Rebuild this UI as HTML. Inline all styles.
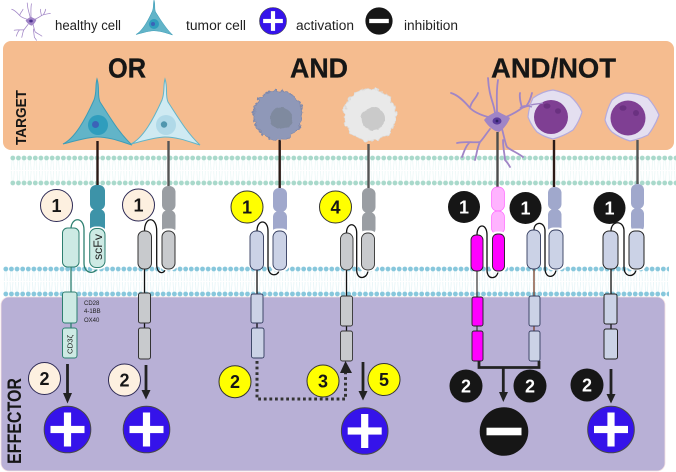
<!DOCTYPE html>
<html><head><meta charset="utf-8"><style>
html,body{margin:0;padding:0;background:#fff}
svg{display:block}
text{font-family:"Liberation Sans",sans-serif}
.t{font-weight:bold;font-size:28px;fill:#161616;stroke:#161616;stroke-width:.3}
.l{font-size:13.5px;fill:#222}
.n{font-weight:bold;font-size:18px;text-anchor:middle}
.s{fill:none;stroke-linecap:round;stroke-width:1.3}
.i{font-size:6px;fill:#222}
</style></head><body>
<svg width="676" height="472" viewBox="0 0 676 472" xmlns="http://www.w3.org/2000/svg">
<defs>
<pattern id="m1" patternUnits="userSpaceOnUse" x="10" y="155" width="5.62" height="31">
<path d="M2 5L1.4 15M3.6 5L4.3 15M1.4 16L2 26M4.3 16L3.6 26" stroke="#e8f6f5" stroke-width=".7" fill="none"/>
<circle cx="2.8" cy="3" r="2.4" fill="#a9d9cb"/><circle cx="2.8" cy="28" r="2.4" fill="#a9d9cb"/>
</pattern>
<pattern id="m2" patternUnits="userSpaceOnUse" x="3" y="266" width="5.62" height="31">
<path d="M2 5L1.4 15M3.6 5L4.3 15M1.4 16L2 26M4.3 16L3.6 26" stroke="#e2f3f6" stroke-width=".7" fill="none"/>
<circle cx="2.8" cy="3" r="2.4" fill="#87c7dc"/><circle cx="2.8" cy="28" r="2.4" fill="#87c7dc"/>
</pattern>
<filter id="rgh" x="-30%" y="-30%" width="160%" height="160%"><feTurbulence type="fractalNoise" baseFrequency=".22" numOctaves="2" seed="4"/><feDisplacementMap in="SourceGraphic" scale="7" xChannelSelector="R" yChannelSelector="G"/></filter>
<filter id="rgh2" x="-30%" y="-30%" width="160%" height="160%"><feTurbulence type="fractalNoise" baseFrequency=".15" numOctaves="2" seed="9"/><feDisplacementMap in="SourceGraphic" scale="4" xChannelSelector="R" yChannelSelector="G"/></filter>
<path id="tumor" d="M97 79C100 88 97 95 100 102C108 114 118 132 132 145C122 142 110 137 97 137C88 137 75 141 63 144C75 138 85 120 94 100C97 92 95 86 97 79Z"/>
<g id="neuron">
<g fill="none" stroke="#a085c6" stroke-linecap="round" stroke-linejoin="round" stroke-width="1.800">
<path d="M495 113C494 103 489 97 488 78M497 113C497 100 496 92 498 80"/>
<path d="M488 117C481 115 474 112 470 108C464 101 458 95 451 93M470 108C471 101 476 99 478 93"/>
<path d="M506 117C513 114 518 111 522 108C528 105 536 104 543 103M522 108C521 103 519 99 520 93M527 105C530 101 531 97 532 93"/>
<path d="M490 129C486 134 483 139 480 142C473 143 465 141 457 143M480 142C477 148 477 153 475 160M469 143C465 147 464 152 462 157"/>
<path d="M502 129C504 136 505 143 507 147C512 151 518 153 523 157M503 140C503 149 505 156 505 160C507 162 509 165 510 167"/>
</g>
<path d="M497 111C502 114 507 116 510 118C508 123 504 129 499 132C493 131 488 126 484 120C487 116 492 114 497 111Z" fill="#a085c6"/>
<ellipse cx="497" cy="121" rx="4.5" ry="3.6" fill="#5a3c9b"/><circle cx="497" cy="121" r="1.4" fill="#2e2266"/>
</g>
<g id="plus"><circle r="23.3" fill="#3513ea" stroke="#484848" stroke-width="1"/><rect x="-17" y="-3.6" width="34" height="7.2" fill="#fff"/><rect x="-3.6" y="-17" width="7.2" height="34" fill="#fff"/></g>
<g id="minus"><circle r="24.3" fill="#161616"/><rect x="-17.5" y="-3.8" width="35" height="7.6" fill="#fff"/></g>
</defs>

<rect x="3" y="41" width="671" height="109" rx="8" fill="#f5bc8f"/>
<rect x="1" y="297" width="664" height="174" rx="8" fill="#b8b0d6" stroke="#f3dfe2" stroke-width=".8"/>
<rect x="10" y="155" width="666" height="31" fill="url(#m1)"/>
<rect x="3" y="266" width="666" height="31" fill="url(#m2)"/>

<!-- legend -->
<use href="#neuron" transform="translate(31 21) scale(.42) translate(-497 -121)"/>
<text class="l" x="55" y="30" textLength="66" lengthAdjust="spacingAndGlyphs">healthy cell</text>
<use href="#tumor" transform="translate(154 0) scale(.53) translate(-97 -79)" fill="#62b4c8" stroke="#3c9cb7" stroke-width="1"/>
<circle cx="154" cy="24" r="5" fill="#2f9dbd"/><circle cx="153" cy="24" r="2" fill="#3b63b8"/>
<text class="l" x="186" y="30" textLength="60" lengthAdjust="spacingAndGlyphs">tumor cell</text>
<use href="#plus" transform="translate(273 21) scale(.58)"/>
<text class="l" x="296" y="30" textLength="58" lengthAdjust="spacingAndGlyphs">activation</text>
<use href="#minus" transform="translate(379 21) scale(.56)"/>
<text class="l" x="404" y="30" textLength="54" lengthAdjust="spacingAndGlyphs">inhibition</text>

<!-- titles -->
<text class="t" x="108" y="77.500" textLength="38" lengthAdjust="spacingAndGlyphs">OR</text>
<text class="t" x="290" y="77.500" textLength="58" lengthAdjust="spacingAndGlyphs">AND</text>
<text class="t" x="491" y="77.500" textLength="125" lengthAdjust="spacingAndGlyphs">AND/NOT</text>
<text transform="translate(26 145) rotate(-90)" font-weight="bold" font-size="15" fill="#161616" textLength="55" lengthAdjust="spacingAndGlyphs">TARGET</text>
<text transform="translate(21 464) rotate(-90)" font-weight="bold" font-size="19" fill="#161616" textLength="86" lengthAdjust="spacingAndGlyphs">EFFECTOR</text>

<!-- stalks -->
<g fill="none" stroke-width="2.4">
<path d="M97.5 141V186" stroke="#2b1a16"/><path d="M168.5 141V186" stroke="#555"/>
<path d="M279.7 140V188" stroke="#2b1a16"/><path d="M368.5 144V188" stroke="#555"/>
<path d="M554 140V187" stroke="#2b1a16"/><path d="M637.5 140V184" stroke="#555"/>
</g>

<!-- target cells -->
<use href="#tumor" fill="#62b4c8" stroke="#3c9cb7" stroke-width="1"/>
<circle cx="98" cy="125" r="10" fill="#2f9dbd"/><circle cx="95.500" cy="124.500" r="3.500" fill="#3b63b8"/>
<use href="#tumor" x="68" fill="#cfeaf2" stroke="#62b4c8" stroke-width="1"/>
<circle cx="166" cy="125" r="10" fill="#b0d9e8"/><circle cx="164" cy="124.500" r="3.200" fill="#4f96ae"/>
<circle cx="278" cy="115" r="24.500" fill="#8f98b8" stroke="#7f89ac" filter="url(#rgh)"/>
<circle cx="281" cy="118.500" r="11" fill="#7f8a9f" filter="url(#rgh2)"/>
<circle cx="370" cy="115" r="26" fill="#e9e9e9" stroke="#dcdcdc" filter="url(#rgh)"/>
<circle cx="373" cy="118.500" r="11.500" fill="#cacaca" filter="url(#rgh2)"/>
<use href="#neuron"/>
<path d="M497.500 132V187" stroke="#4d4d4d" stroke-width="2.400"/>
<path d="M553 90Q563 92 570 96Q578 103 582 112Q579 122 573 130Q564 136 553 139Q544 137 537 132Q531 125 528 117Q529 106 533 98Q543 91 553 90Z" fill="#e4dff0" stroke="#b5aadb" stroke-width="1.200"/>
<circle cx="551" cy="117" r="17" fill="#7f3f93"/><ellipse cx="547" cy="106" rx="3.500" ry="2.600" fill="#6a3180"/><ellipse cx="558" cy="111" rx="3" ry="2.800" fill="#6a3180"/>
<path d="M532 107C526 105 522 106 520 108M543 103C538 104 534 104 531 105" stroke="#a085c6" stroke-width="1.400" fill="none"/>
<path d="M625 93Q638 93 648 98Q655 106 659 115Q655 126 648 135Q640 139 630 141Q620 138 612 132Q607 127 605 120Q607 109 612 100Q618 95 625 93Z" fill="#e4dff0" stroke="#b5aadb" stroke-width="1.200"/>
<circle cx="628" cy="118" r="17.500" fill="#7f3f93"/><ellipse cx="623" cy="108" rx="3.500" ry="2.800" fill="#6a3180"/><ellipse cx="636" cy="113" rx="3" ry="3" fill="#6a3180"/>

<!-- bulbs -->
<g>
<rect x="90" y="185" width="15" height="25" rx="6" fill="#3d93a8"/><rect x="90" y="209" width="15" height="24" rx="6" fill="#3d93a8"/>
<rect x="162" y="186" width="13.500" height="25" rx="6" fill="#9a9ea3"/><rect x="162" y="210" width="13.500" height="24" rx="6" fill="#9a9ea3"/>
<rect x="273" y="188" width="14" height="24" rx="6" fill="#a0a8cc"/><rect x="273" y="211" width="14" height="23" rx="6" fill="#a0a8cc"/>
<rect x="362" y="188" width="13.500" height="25" rx="6" fill="#9a9ea3"/><rect x="362" y="212" width="13.500" height="23" rx="6" fill="#9a9ea3"/>
<rect x="491.500" y="187" width="13" height="24" rx="6" fill="#ffb3ff" stroke="#ff66ff" stroke-width=".7"/><rect x="491.500" y="211" width="13" height="23" rx="6" fill="#ffb3ff" stroke="#ff66ff" stroke-width=".7"/>
<rect x="548" y="187" width="13.500" height="23" rx="6" fill="#a0a8cc"/><rect x="548" y="209" width="13.500" height="25" rx="6" fill="#a0a8cc"/>
<rect x="631" y="184" width="13" height="25" rx="6" fill="#a0a8cc"/><rect x="631" y="208" width="13" height="24" rx="6" fill="#a0a8cc"/>
</g>

<!-- A -->
<g stroke="#2d7f70" fill="#cdeae4" stroke-width="1">
<path class="s" d="M71 229C71 217 84 216 84 230V263C84 275 96 274 97 268"/>
<path d="M71 267V292M71 323V328" fill="none" stroke-width="1.300"/>
<rect x="88.700" y="228" width="17" height="40" rx="7" stroke="#fff" stroke-width="3"/>
<rect x="89.700" y="228.500" width="15.300" height="39" rx="6.500"/>
<rect x="62.500" y="228" width="16.500" height="39" rx="5"/>
<rect x="62.500" y="292" width="14.500" height="31" rx="2.500"/>
<rect x="62.500" y="328" width="14.500" height="30" rx="2.500"/>
</g>
<!-- B -->
<g stroke="#333" fill="#c8cacd" stroke-width="1">
<path class="s" d="M144.500 231C144.500 216 156.700 216 156.700 231V264C156.700 275 165 274 165 269" stroke="#111"/>
<path d="M144.500 269V293M144.500 323V328" fill="none" stroke="#111" stroke-width="1.300"/>
<rect x="160.500" y="230" width="16" height="39" rx="6" stroke="#fff" stroke-width="3"/>
<rect x="162" y="231" width="13" height="38" rx="6"/>
<rect x="138" y="231" width="13.500" height="38" rx="6"/>
<rect x="138.500" y="293" width="12" height="30" rx="2"/>
<rect x="138.500" y="328" width="12" height="31" rx="2"/>
</g>
<!-- C -->
<g stroke="#333c5e" fill="#cbd2e6" stroke-width=".9">
<path class="s" d="M257 231C257 219 268 219 268 231V266C268 278 279 276 279 270" stroke="#111"/>
<path d="M257 270V294M257 323V328" fill="none" stroke="#111" stroke-width="1.300"/>
<rect x="271.500" y="230" width="16.500" height="40" rx="6" stroke="#fff" stroke-width="3"/>
<rect x="273" y="231" width="13.500" height="39" rx="6"/>
<rect x="250" y="231" width="13.500" height="39" rx="6"/>
<rect x="251" y="294" width="12" height="29" rx="2"/>
<rect x="251.500" y="328" width="12.500" height="30" rx="2"/>
</g>
<!-- D -->
<g stroke="#333" fill="#c8cacd" stroke-width=".9">
<path class="s" d="M346.500 233C346.500 222 356.700 222 356.700 233V270C356.700 281 368 279 368 270" stroke="#111"/>
<path d="M346.500 270V296M346.500 326V331" fill="none" stroke="#111" stroke-width="1.300"/>
<rect x="360" y="232" width="16" height="38" rx="6" stroke="#fff" stroke-width="3"/>
<rect x="361.500" y="233" width="13" height="37" rx="6"/>
<rect x="340.500" y="233" width="12.500" height="37" rx="6"/>
<rect x="340.500" y="296" width="12" height="30" rx="2"/>
<rect x="340.500" y="331" width="12" height="30" rx="2"/>
</g>
<!-- E -->
<g stroke="#222" fill="#ff00ff" stroke-width=".9">
<path class="s" d="M477 235C477 223 487 223 487 235V270C487 281 498 279 498 271" stroke="#111"/>
<path d="M477 271V297M477 326V331" fill="none" stroke="#444" stroke-width="1.300"/>
<rect x="491" y="233" width="15" height="38" rx="6" stroke="#fff" stroke-width="3"/>
<rect x="492.500" y="234" width="12" height="37" rx="5"/>
<rect x="471" y="235" width="12" height="36" rx="5"/>
<rect x="472" y="297" width="11" height="29" rx="2"/>
<rect x="472" y="331" width="11" height="30" rx="2"/>
</g>
<!-- F -->
<g stroke="#333c5e" fill="#cbd2e6" stroke-width=".9">
<path class="s" d="M534 230C534 221 545 221 545 231V268C545 280 556 278 556 269" stroke="#111"/>
<path d="M534 269V296M534 326V331" fill="none" stroke="#7a4028" stroke-width="1.300"/>
<rect x="547.500" y="229" width="17" height="40" rx="6" stroke="#fff" stroke-width="3"/>
<rect x="549" y="230" width="14" height="39" rx="6"/>
<rect x="527" y="230" width="13.500" height="39" rx="6"/>
<rect x="529" y="296" width="11" height="30" rx="2"/>
<rect x="529" y="331" width="11" height="30" rx="2"/>
</g>
<!-- G -->
<g stroke="#222" fill="#cbd2e6" stroke-width="1">
<path class="s" d="M611 231C611 220 624 220 624 231V267C624 279 636 277 636 269" stroke="#111"/>
<path d="M611 269V294M611 324V329" fill="none" stroke="#111" stroke-width="1.300"/>
<rect x="627.500" y="230" width="18" height="39" rx="6" stroke="#fff" stroke-width="3"/>
<rect x="629" y="231" width="15" height="38" rx="6"/>
<rect x="603" y="231" width="15" height="38" rx="6"/>
<rect x="604" y="294" width="13" height="30" rx="2"/>
<rect x="604" y="329" width="13.500" height="30" rx="2"/>
</g>

<!-- labels -->
<text transform="translate(102 260) rotate(-90)" font-size="12" fill="#222" textLength="26" lengthAdjust="spacingAndGlyphs">scFv</text>
<text class="i" x="84" y="305">CD28</text><text class="i" x="84" y="313">4-1BB</text><text class="i" x="84" y="322">OX40</text>
<text transform="translate(72.500 354) rotate(-90)" font-size="7" fill="#222" textLength="19" lengthAdjust="spacingAndGlyphs">CD3ζ</text>

<!-- arrows -->
<g stroke="#222" stroke-width="2.800" fill="none">
<path d="M67.500 364V394"/><path d="M146 365V391"/><path d="M363 362V392"/>
<path d="M479 361V367.500H539V361" stroke-width="2.800"/><path d="M503.300 367.500V393"/><path d="M611 369V395"/>
<path d="M257 361V399H345.500V372" stroke="#333" stroke-width="3" stroke-dasharray="2.800 2.800"/>
</g>
<g fill="#222">
<path d="M63 393H72L67.500 403.500Z"/><path d="M141.500 390H150.500L146 399.500Z"/><path d="M358.500 391H367.500L363 400.500Z"/>
<path d="M499 392H508L503.300 402Z"/><path d="M606.500 394H615.500L611 403.500Z"/><path d="M340 373H352L345.500 361Z"/>
</g>

<!-- effector circles -->
<use href="#plus" x="67.500" y="429.500"/>
<use href="#plus" x="146.500" y="429.500"/>
<use href="#plus" x="364.700" y="431"/>
<use href="#minus" x="504" y="431.500"/>
<use href="#plus" x="611" y="429.500"/>

<!-- badges -->
<g stroke="#2d2a55" stroke-width="1" fill="#fdf0e0">
<circle cx="56.500" cy="205.500" r="16"/><circle cx="138.500" cy="205" r="16"/>
<circle cx="44.500" cy="378.500" r="16"/><circle cx="124.500" cy="380" r="16"/>
</g>
<g stroke="#333" stroke-width="1" fill="#ffff00">
<circle cx="247" cy="207" r="16"/><circle cx="335.500" cy="207" r="16"/>
<circle cx="235" cy="381.700" r="16"/><circle cx="323" cy="381" r="16"/><circle cx="384" cy="379.500" r="16"/>
</g>
<g fill="#161616">
<circle cx="464" cy="207" r="16"/><circle cx="525.500" cy="208" r="16"/><circle cx="609.500" cy="208" r="16"/>
<circle cx="466" cy="386" r="16.500"/><circle cx="530" cy="386" r="16.500"/><circle cx="587" cy="385" r="16.500"/>
</g>
<g fill="#161616">
<text class="n" x="56.500" y="212">1</text><text class="n" x="138.500" y="211.500">1</text>
<text class="n" x="44.500" y="385">2</text><text class="n" x="124.500" y="386.500">2</text>
<text class="n" x="247" y="213.500">1</text><text class="n" x="335.500" y="213.500">4</text>
<text class="n" x="235" y="388">2</text><text class="n" x="323" y="387.500">3</text><text class="n" x="384" y="386">5</text>
</g>
<g fill="#fff">
<text class="n" x="464" y="213.500">1</text><text class="n" x="525.500" y="214.500">1</text><text class="n" x="609.500" y="214.500">1</text>
<text class="n" x="466" y="392.500">2</text><text class="n" x="530" y="392.500">2</text><text class="n" x="587" y="391.500">2</text>
</g>
</svg>
</body></html>
